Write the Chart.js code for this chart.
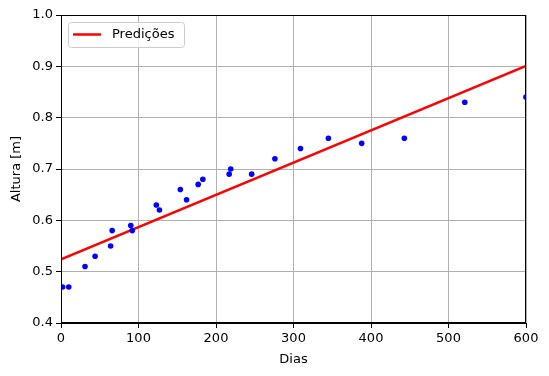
<!DOCTYPE html>
<html>
<head>
<meta charset="utf-8">
<script src="https://cdn.jsdelivr.net/npm/chart.js@4.4.1/dist/chart.umd.min.js"></script>
<style>
  body { margin: 0; background: #fff; }
  canvas { display: block; }
</style>
</head>
<body>
<canvas id="chart" width="549" height="376"></canvas>
<script>
// medições (dias, altura em m)
var dias = [2, 10, 31, 44, 64, 66, 90, 92, 123, 127, 154, 162, 177, 183, 217, 219, 246, 276, 309, 345, 388, 443, 521, 600];
var alturas = [0.47, 0.47, 0.51, 0.53, 0.55, 0.58, 0.59, 0.58, 0.63, 0.62, 0.66, 0.64, 0.67, 0.68, 0.69, 0.70, 0.69, 0.72, 0.74, 0.76, 0.75, 0.76, 0.83, 0.84];

// reta de predição
var predDias = [0, 600];
var predAlturas = [0.524, 0.901];

var FONT = 'DejaVu Sans';

function toPoints(xs, ys) {
  return xs.map(function(x, i) { return { x: x, y: ys[i] }; });
}

// moldura completa (4 lados) + legenda dentro do gráfico
var framePlugin = {
  id: 'frame',
  afterDraw: function(chart) {
    var ctx = chart.ctx, a = chart.chartArea;
    ctx.save();
    ctx.strokeStyle = '#000';
    ctx.lineWidth = 1;
    ctx.strokeRect(a.left + 0.5, a.top + 0.5, a.right - a.left - 1, a.bottom - a.top - 1);

    // legenda
    var x = a.left + 7, y = a.top + 7, w = 116, h = 25, r = 3;
    ctx.fillStyle = 'rgba(255,255,255,0.8)';
    ctx.strokeStyle = '#cccccc';
    ctx.beginPath();
    ctx.roundRect(x + 0.5, y + 0.5, w, h, r);
    ctx.fill();
    ctx.stroke();
    var ds = chart.data.datasets[0];
    ctx.strokeStyle = ds.borderColor;
    ctx.lineWidth = 2.5;
    ctx.beginPath();
    ctx.moveTo(x + 5, y + 12.5);
    ctx.lineTo(x + 33, y + 12.5);
    ctx.stroke();
    ctx.fillStyle = '#000';
    ctx.font = '13px ' + FONT;
    ctx.textBaseline = 'middle';
    ctx.fillText(ds.label, x + 44, y + 13);
    ctx.restore();
  }
};

new Chart(document.getElementById('chart'), {
  type: 'scatter',
  data: {
    datasets: [{
      type: 'line',
      label: 'Predições',
      data: toPoints(predDias, predAlturas),
      borderColor: '#ff0000',
      borderWidth: 2.5,
      pointRadius: 0,
      fill: false,
      order: 1
    }, {
      label: 'Medições',
      data: toPoints(dias, alturas),
      backgroundColor: '#0000ff',
      borderColor: '#0000ff',
      pointRadius: 2.8,
      borderWidth: 0,
      order: 0
    }]
  },
  options: {
    responsive: false,
    animation: false,
    layout: { padding: { left: 0, top: 15, right: 23, bottom: 0 } },
    plugins: {
      legend: { display: false },
      tooltip: { enabled: false }
    },
    scales: {
      x: {
        type: 'linear',
        min: 0,
        max: 600,
        afterFit: function(s) { s.height = 53; },
        ticks: {
          stepSize: 100,
          color: '#000',
          padding: 3,
          maxRotation: 0,
          font: { family: FONT, size: 13 }
        },
        grid: { color: '#b0b0b0', lineWidth: 1, tickColor: '#000', tickLength: 5 },
        border: { color: '#000', width: 1 },
        title: {
          display: true,
          text: 'Dias',
          color: '#000',
          font: { family: FONT, size: 13 },
          padding: { top: 0, bottom: 9 }
        }
      },
      y: {
        min: 0.4,
        max: 1.0,
        afterFit: function(s) { s.width = 61; },
        ticks: {
          stepSize: 0.1,
          color: '#000',
          padding: 3,
          font: { family: FONT, size: 13 },
          callback: function(v) { return v.toFixed(1); }
        },
        grid: { color: '#b0b0b0', lineWidth: 1, tickColor: '#000', tickLength: 5 },
        border: { color: '#000', width: 1 },
        title: {
          display: true,
          text: 'Altura [m]',
          color: '#000',
          font: { family: FONT, size: 13 },
          padding: { top: 9, bottom: 0 }
        }
      }
    }
  },
  plugins: [framePlugin]
});
</script>
</body>
</html>
